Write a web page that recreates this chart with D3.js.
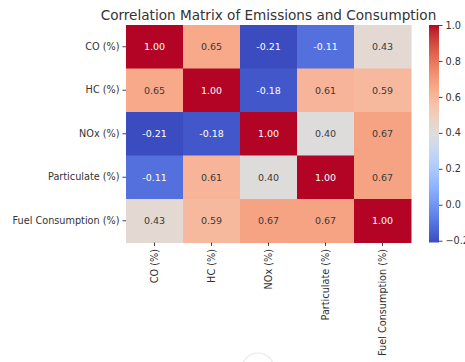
<!DOCTYPE html>
<html>
<head>
<meta charset="utf-8">
<script src="https://cdn.jsdelivr.net/npm/d3@7"></script>
<style>
  html, body { margin: 0; padding: 0; background: #fff; }
  svg { display: block; font-family: "DejaVu Sans", sans-serif; }
</style>
</head>
<body>
<svg id="chart" width="465" height="362"></svg>
<script>
const labels = ["CO (%)", "HC (%)", "NOx (%)", "Particulate (%)", "Fuel Consumption (%)"];
const rowCO = [1.00, 0.65, -0.21, -0.11, 0.43];
const rowHC = [0.65, 1.00, -0.18, 0.61, 0.59];
const rowNOx = [-0.21, -0.18, 1.00, 0.40, 0.67];
const rowPart = [-0.11, 0.61, 0.40, 1.00, 0.67];
const rowFuel = [0.43, 0.59, 0.67, 0.67, 1.00];
const matrix = [rowCO, rowHC, rowNOx, rowPart, rowFuel];
const cbTicks = [-0.2, 0.0, 0.2, 0.4, 0.6, 0.8, 1.0];
const title = "Correlation Matrix of Emissions and Consumption";

// coolwarm (Moreland) control colours
const coolwarm = [
  [59,76,192],[68,90,204],[77,104,215],[87,117,225],[98,130,234],[108,142,241],
  [119,154,247],[130,165,251],[141,176,254],[152,185,255],[163,194,255],[174,201,253],
  [184,208,249],[194,213,244],[204,217,238],[213,219,230],[221,221,221],[229,216,209],
  [236,211,197],[241,204,185],[245,196,173],[247,187,160],[247,177,148],[247,166,135],
  [244,154,123],[241,141,111],[236,127,99],[229,112,88],[222,96,77],[213,80,66],
  [203,62,56],[192,40,47],[180,4,38]
].map(c => d3.rgb(c[0], c[1], c[2]).toString());
const cmap = d3.piecewise(d3.interpolateRgb, coolwarm);

const all = matrix.flat();
const vmin = d3.min(all), vmax = d3.max(all);
const norm = d3.scaleLinear().domain([vmin, vmax]).range([0, 1]).clamp(true);
const color = v => cmap(norm(v));

const svg = d3.select("#chart");
const mLeft = 126, mTop = 25, W = 285, H = 217.5;

const x = d3.scaleBand().domain(d3.range(labels.length)).range([mLeft, mLeft + W]);
const y = d3.scaleBand().domain(d3.range(labels.length)).range([mTop, mTop + H]);

// title
svg.append("text")
  .attr("x", mLeft + W / 2).attr("y", 20)
  .attr("text-anchor", "middle")
  .attr("font-size", "13.6px")
  .attr("fill", "#333")
  .text(title);

// cells
const cells = [];
matrix.forEach((row, i) => row.forEach((v, j) => cells.push({i, j, v})));
svg.append("g").selectAll("rect").data(cells).join("rect")
  .attr("x", d => x(d.j)).attr("y", d => y(d.i))
  .attr("width", x.bandwidth() + 0.5).attr("height", y.bandwidth() + 0.5)
  .attr("fill", d => color(d.v));

function lum(c) {
  const rgb = d3.rgb(c);
  const f = u => { u /= 255; return u <= 0.03928 ? u / 12.92 : Math.pow((u + 0.055) / 1.055, 2.4); };
  return 0.2126 * f(rgb.r) + 0.7152 * f(rgb.g) + 0.0722 * f(rgb.b);
}
svg.append("g").selectAll("text").data(cells).join("text")
  .attr("x", d => x(d.j) + x.bandwidth() / 2)
  .attr("y", d => y(d.i) + y.bandwidth() / 2)
  .attr("text-anchor", "middle")
  .attr("dominant-baseline", "central")
  .attr("font-size", "9.5px")
  .attr("fill", d => lum(color(d.v)) > 0.408 ? "#3a3a3a" : "#ffffff")
  .text(d => d.v.toFixed(2));

// y axis
const yAxis = d3.axisLeft(d3.scaleBand().domain(labels).range([mTop, mTop + H]))
  .tickSize(3.5).tickPadding(3);
const gy = svg.append("g").attr("transform", `translate(${mLeft},0)`).call(yAxis);
gy.select(".domain").remove();
gy.selectAll("text").attr("font-size", "9.7px").attr("fill", "#333").attr("font-family", "DejaVu Sans");
gy.selectAll("line").attr("stroke", "#444");

// x axis
const xAxis = d3.axisBottom(d3.scaleBand().domain(labels).range([mLeft, mLeft + W]))
  .tickSize(3.5).tickPadding(3);
const gx = svg.append("g").attr("transform", `translate(0,${mTop + H})`).call(xAxis);
gx.select(".domain").remove();
gx.selectAll("line").attr("stroke", "#444");
gx.selectAll("text")
  .attr("font-size", "9.7px").attr("fill", "#333").attr("font-family", "DejaVu Sans")
  .attr("transform", "rotate(-90)")
  .attr("text-anchor", "end")
  .attr("x", -6.5).attr("y", 0).attr("dy", "0.32em");

// colorbar
const cbX = 429, cbW = 10;
const defs = svg.append("defs");
const grad = defs.append("linearGradient").attr("id", "cbgrad")
  .attr("x1", 0).attr("y1", 1).attr("x2", 0).attr("y2", 0);
d3.range(0, 1.0001, 1 / 32).forEach(t => {
  grad.append("stop").attr("offset", t).attr("stop-color", cmap(t));
});
svg.append("rect").attr("x", cbX).attr("y", mTop).attr("width", cbW).attr("height", H)
  .attr("fill", "url(#cbgrad)");
const cbScale = d3.scaleLinear().domain([vmin, vmax]).range([mTop + H, mTop]);
const cbAxis = d3.axisRight(cbScale).tickValues(cbTicks).tickFormat(d3.format(".1f"))
  .tickSize(3.5).tickPadding(3);
const gc = svg.append("g").attr("transform", `translate(${cbX + cbW},0)`).call(cbAxis);
gc.select(".domain").remove();
gc.selectAll("line").attr("stroke", "#444");
gc.selectAll("text").attr("font-size", "9.7px").attr("fill", "#333").attr("font-family", "DejaVu Sans")
  .text(d => d3.format(".1f")(d).replace("-", "\u2212"));

// faint artifact circle at bottom
svg.append("circle").attr("cx", 258).attr("cy", 369).attr("r", 16)
  .attr("fill", "none").attr("stroke", "#e8e8e8").attr("stroke-width", 1.2);
</script>
</body>
</html>
